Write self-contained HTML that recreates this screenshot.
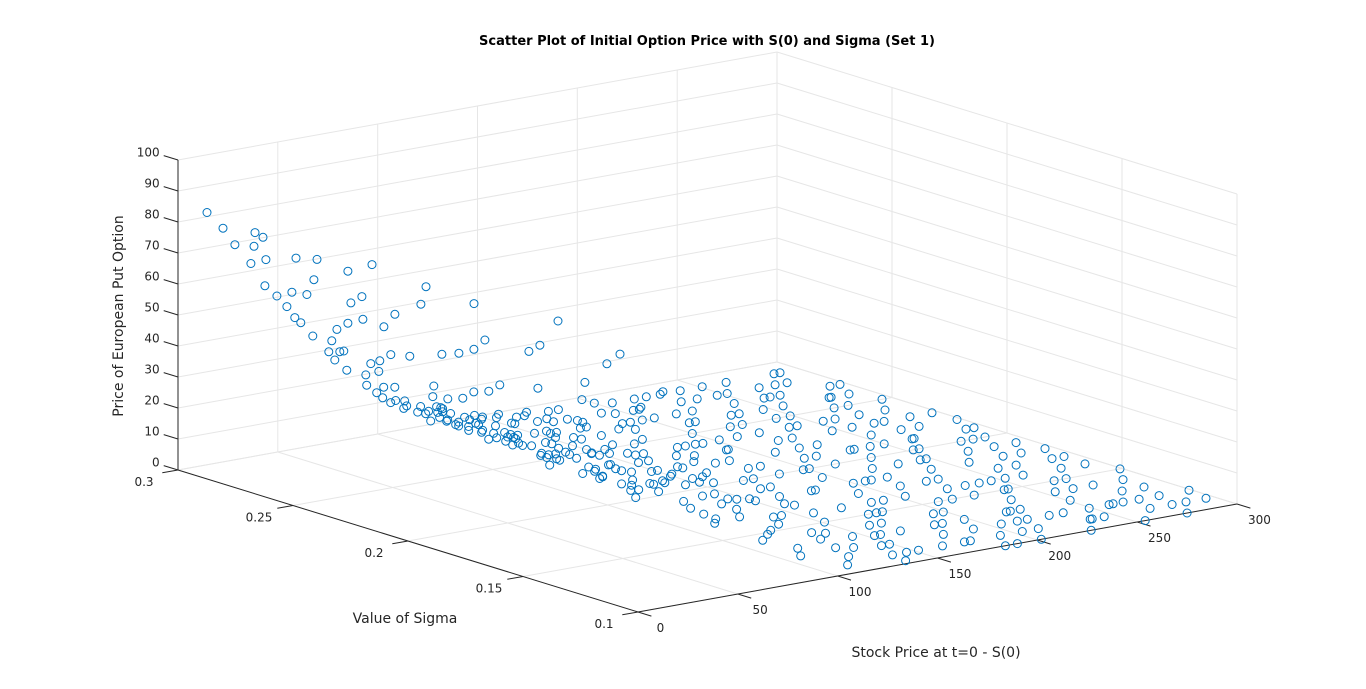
<!DOCTYPE html>
<html><head><meta charset="utf-8"><style>
html,body{margin:0;padding:0;background:#fff;}
svg{display:block;font-family:"DejaVu Sans","Liberation Sans",sans-serif;}
</style></head><body>
<svg id="chart" width="1366" height="689" viewBox="0 0 1366 689" xmlns="http://www.w3.org/2000/svg">
<rect width="1366" height="689" fill="#fff"/>
<g id="grid"></g>
<g id="axes"></g>
<g id="points"></g>
<text x="707" y="45" text-anchor="middle" font-size="13" font-weight="bold" fill="#000">Scatter Plot of Initial Option Price with S(0) and Sigma (Set 1)</text>
<text x="405" y="623" text-anchor="middle" font-size="14" fill="#262626">Value of Sigma</text>
<text x="936" y="657" text-anchor="middle" font-size="14" fill="#262626">Stock Price at t=0 - S(0)</text>
<text x="0" y="0" transform="translate(123,316) rotate(-90)" text-anchor="middle" font-size="14" fill="#262626">Price of European Put Option</text>
</svg>
<script>
const stockPrices=[3,8,12,5,15,18,22,10,25,28,6,14,30,33,35,20,38,40,42,24,
45,47,48,50,52,55,57,58,60,62,64,66,68,70,72,73,75,77,78,80,
82,84,85,86,88,36,44,53,27,16,31,39,46,56,63,69,74,81,87,9,
19,26,34,41,49,54,59,65,71,76,79,83,89,90,61,67,43,37,29,51,
92,94,95,96,98,100,101,103,104,106,107,109,110,111,113,114,116,117,119,120,
121,123,124,126,127,129,130,93,97,102,105,108,112,115,118,122,125,128,99,91,
132,133,135,136,137,139,140,141,143,144,145,147,148,149,151,152,153,155,156,157,
159,160,161,163,164,165,167,168,169,171,172,173,175,176,177,179,180,181,183,184,
185,187,188,189,191,192,193,195,196,197,199,200,201,203,204,205,207,208,209,211,
212,213,215,216,217,219,220,221,223,224,225,227,228,229,231,232,233,235,236,237,
239,240,241,243,244,245,247,248,249,251,252,253,255,256,257,259,260,261,263,264,
265,267,268,269,271,272,273,275,276,277,279,280,281,283,284,285,287,288,289,291,
292,293,295,296,297,299,
134,138,142,146,150,154,158,162,166,170,174,178,182,186,190,194,198,202,206,210,
214,218,222,226,230,234,238,242,246,250,254,258,262,266,270,274,278,282,286,290,
294,298,137,143,149,156,163,170,177,184,191,198,205,212,219,226,233,240,247,254,
261,268,275,282,289,296,139,152,165,178,
91,93,95,97,99,100,102,103,105,106,108,109,111,112,114,115,117,118,120,121,
123,124,126,127,129,130,132,133,135,136,138,139,141,142,144,145,147,148,150,152,
154,156,158,160,96,101,107,113,119,125,
131,134,136,140,142,146,148,151,153,155,157,159,162,164,166,168,171,173,175,177,
179,181,183,186,188,190,192,194,196,198,200,202,204,206,208,210,213,215,217,219,
221,223,225,227,229,231,233,235,237,239,241,243,245,247,249,251,253,255,257,259,
262,264,266,268,270,272,274,277,279,281,284,286,288,290,293,295,297,299,
4,11,13,17,21,23,32,34,47,56,62,66,71,74,79,83,86,88,64,58];
const sigmas=[.29,.27,.25,.22,.28,.21,.26,.18,.29,.23,.14,.12,.27,.20,.25,.16,.29,.22,.18,.11,
.27,.24,.15,.29,.21,.26,.13,.19,.28,.23,.17,.27,.12,.25,.20,.29,.16,.24,.11,.28,
.21,.26,.14,.19,.29,.13,.11,.17,.19,.24,.15,.26,.20,.22,.14,.18,.27,.17,.23,.20,
.13,.17,.28,.16,.25,.28,.24,.21,.15,.22,.19,.29,.26,.28,.11,.29,.29,.21,.25,.12,
.27,.22,.29,.15,.25,.19,.28,.12,.23,.27,.17,.21,.29,.14,.25,.19,.27,.11,.23,.16,
.29,.20,.26,.13,.22,.28,.17,.11,.13,.16,.10,.24,.26,.18,.29,.12,.24,.15,.21,.18,
.27,.14,.22,.19,.29,.11,.25,.16,.21,.28,.12,.24,.18,.29,.15,.26,.20,.23,.13,.28,
.17,.25,.21,.29,.11,.19,.27,.14,.23,.16,.28,.20,.25,.12,.22,.29,.15,.18,.26,.10,
.24,.13,.21,.28,.17,.27,.11,.23,.19,.29,.14,.25,.20,.16,.27,.12,.22,.28,.18,.24,
.11,.26,.15,.21,.29,.13,.23,.19,.27,.16,.25,.10,.22,.28,.17,.20,.14,.26,.12,.24,
.18,.29,.15,.21,.27,.11,.23,.19,.25,.13,.28,.16,.22,.20,.26,.12,.24,.17,.29,.14,
.21,.27,.11,.19,.25,.15,.23,.18,.28,.13,.22,.26,.16,.20,.12,.24,.29,.17,.14,.21,
.27,.19,.25,.11,.23,.15,
.10,.24,.13,.20,.27,.17,.22,.14,.26,.19,.29,.11,.21,.16,.24,.14,.27,.10,.18,.26,
.20,.12,.24,.15,.29,.19,.11,.25,.16,.21,.10,.18,.27,.15,.22,.12,.25,.19,.11,.26,
.17,.22,.16,.26,.12,.24,.18,.27,.15,.22,.12,.20,.28,.17,.25,.13,.21,.16,.28,.24,
.12,.23,.10,.28,.20,.18,.20,.11,.28,.23,
.29,.26,.24,.28,.22,.27,.25,.29,.21,.26,.28,.23,.27,.20,.29,.25,.22,.27,.24,.29,
.26,.21,.28,.24,.27,.22,.29,.25,.23,.28,.26,.21,.29,.24,.27,.22,.25,.29,.23,.27,
.21,.26,.29,.24,.20,.23,.20,.24,.26,.29,
.12,.18,.23,.14,.19,.11,.22,.18,.13,.27,.16,.21,.29,.24,.13,.20,.25,.15,.11,.28,
.18,.24,.13,.20,.27,.10,.16,.23,.28,.13,.18,.24,.11,.29,.15,.21,.12,.27,.18,.22,
.13,.29,.17,.23,.12,.26,.16,.21,.28,.11,.24,.15,.19,.26,.12,.29,.20,.14,.23,.27,
.16,.21,.12,.28,.17,.24,.14,.20,.11,.26,.18,.23,.13,.29,.16,.21,.27,.12,
.27,.29,.26,.29,.28,.24,.29,.24,.29,.29,.27,.24,.28,.25,.27,.25,.28,.25,.29,.28];
const prices=[85,81,78,84,75,72,68,80,66,63,84,77,60,58,56,70,54,51,49,66,
47,45,42,44,40,38,33,35,36,32,29,31,24,27,23,26,19,21,15,22,
16,18,11,13,17,55,47,39,64,76,59,52,45,37,28,25,25,14,14,81,
71,65,58,50,43,40,34,28,22,20,17,20,15,14,27,30,50,54,62,38,
12,9,13,6,10,7,11,4,8,10,5,6,10,3,7,5,8,2,6,3,
8,4,6,2,4,6,2,5,5,6,3,9,8,4,9,2,5,2,8,8,
3,1,2,1,4,0,3,1,2,3,0,2,1,3,0,2,1,1,0,2,
0,1,1,2,0,0,1,0,1,0,1,0,1,0,0,1,0,0,1,0,
0,0,0,1,0,0,0,0,0,1,0,0,0,0,0,0,0,0,0,0,
0,0,0,0,0,0,0,0,0,0,0,0,0,0,0,0,0,0,0,0,
0,0,0,0,0,0,0,0,0,0,0,0,0,0,0,0,0,0,0,0,
0,0,0,0,0,0,0,0,0,0,0,0,0,0,0,0,0,0,0,0,
0,0,0,0,0,0,
1,3,1,2,2,1,1,0,1,0,1,0,0,0,0,0,0,0,0,0,
0,0,0,0,0,0,0,0,0,0,0,0,0,0,0,0,0,0,0,0,
0,0,1,3,0,1,0,1,0,0,0,0,0,0,0,0,0,0,0,0,
0,0,0,0,0,0,2,0,1,0,
15,13,12,12,10,11,10,11,8,9,9,7,8,5,8,6,5,6,5,7,
5,3,5,4,4,3,4,3,2,3,2,1,3,2,2,1,1,2,1,1,
0,1,1,0,9,9,6,6,6,6,
1,1,2,0,1,0,1,0,0,1,0,0,1,0,0,0,0,0,0,0,
0,0,0,0,0,0,0,0,0,0,0,0,0,0,0,0,0,0,0,0,
0,0,0,0,0,0,0,0,0,0,0,0,0,0,0,0,0,0,0,0,
0,0,0,0,0,0,0,0,0,0,0,0,0,0,0,0,0,0,
83,79,76,73,70,67,58,56,46,39,34,29,27,23,20,16,17,14,33,36];
const sTicks=[0,50,100,150,200,250,300];
const sigTicks=[0.1,0.15,0.2,0.25,0.3];
const sigTickLabels=["0.1","0.15","0.2","0.25","0.3"];
const zTicks=[0,10,20,30,40,50,60,70,80,90,100];

const NS="http://www.w3.org/2000/svg";
const O={x:638,y:612};
const SV={x:599,y:-108};
const GV={x:-460,y:-142};
const ZS=3.1;
function proj(s,g,z){
  const a=s/300,b=(g-0.1)/0.2;
  return {x:O.x+a*SV.x+b*GV.x, y:O.y+a*SV.y+b*GV.y-z*ZS};
}
function line(parent,p,q,stroke,w,name){
  const l=document.createElementNS(NS,'line');
  l.setAttribute('x1',p.x.toFixed(1));l.setAttribute('y1',p.y.toFixed(1));
  l.setAttribute('x2',q.x.toFixed(1));l.setAttribute('y2',q.y.toFixed(1));
  l.setAttribute('stroke',stroke);l.setAttribute('stroke-width',w);
  
  
  parent.appendChild(l);
}
function text(parent,x,y,str,anchor,name){
  const t=document.createElementNS(NS,'text');
  t.setAttribute('x',x.toFixed(1));t.setAttribute('y',y.toFixed(1));
  t.setAttribute('text-anchor',anchor);t.setAttribute('font-size','12');
  t.setAttribute('fill','#262626');
  t.textContent=str;
  
  
  parent.appendChild(t);
}
const grid=document.getElementById('grid');
const axes=document.getElementById('axes');
const GC="#e6e6e6";
sTicks.forEach(s=>line(grid,proj(s,0.1,0),proj(s,0.3,0),GC,1,'floor-grid-s'));
sigTicks.forEach(g=>line(grid,proj(0,g,0),proj(300,g,0),GC,1,'floor-grid-sigma'));
sTicks.forEach(s=>line(grid,proj(s,0.3,0),proj(s,0.3,100),GC,1,'back-wall-grid-vertical'));
zTicks.forEach(z=>line(grid,proj(0,0.3,z),proj(300,0.3,z),GC,1,'back-wall-grid-horizontal'));
sigTicks.forEach(g=>line(grid,proj(300,g,0),proj(300,g,100),GC,1,'side-wall-grid-vertical'));
zTicks.forEach(z=>line(grid,proj(300,0.1,z),proj(300,0.3,z),GC,1,'side-wall-grid-horizontal'));
const AC="#262626";
line(axes,proj(0,0.3,0),proj(0,0.3,100),AC,1,'price-axis-line');
line(axes,proj(0,0.1,0),proj(0,0.3,0),AC,1,'sigma-axis-line');
line(axes,proj(0,0.1,0),proj(300,0.1,0),AC,1,'stock-price-axis-line');
const gl=Math.hypot(GV.x,GV.y), sl=Math.hypot(SV.x,SV.y);
const gu={x:GV.x/gl,y:GV.y/gl}, su={x:SV.x/sl,y:SV.y/sl};
zTicks.forEach(z=>{
  const p=proj(0,0.3,z);
  const q={x:p.x+gu.x*15,y:p.y+gu.y*15};
  line(axes,p,q,AC,1,'price-tick');
  text(axes,q.x-4,q.y+1,String(z),'end','price-tick-label');
});
sigTicks.forEach((g,i)=>{
  const p=proj(0,g,0);
  const q={x:p.x-su.x*16,y:p.y-su.y*16};
  line(axes,p,q,AC,1,'sigma-tick');
  text(axes,p.x-34,p.y+16,sigTickLabels[i],'middle','sigma-tick-label');
});
sTicks.forEach(s=>{
  const p=proj(s,0.1,0);
  const q={x:p.x-gu.x*14,y:p.y-gu.y*14};
  line(axes,p,q,AC,1,'stock-price-tick');
  text(axes,q.x+9,q.y+16,String(s),'middle','stock-price-tick-label');
});
const pg=document.getElementById('points');
const n=Math.min(stockPrices.length,sigmas.length,prices.length);
for(let i=0;i<n;i++){
  const p=proj(stockPrices[i],sigmas[i],prices[i]);
  const c=document.createElementNS(NS,'circle');
  c.setAttribute('cx',p.x.toFixed(1));c.setAttribute('cy',p.y.toFixed(1));
  c.setAttribute('r','4');c.setAttribute('fill','none');
  c.setAttribute('stroke','#0072BD');c.setAttribute('stroke-width','1');
  
  
  pg.appendChild(c);
}
</script>
</body></html>
